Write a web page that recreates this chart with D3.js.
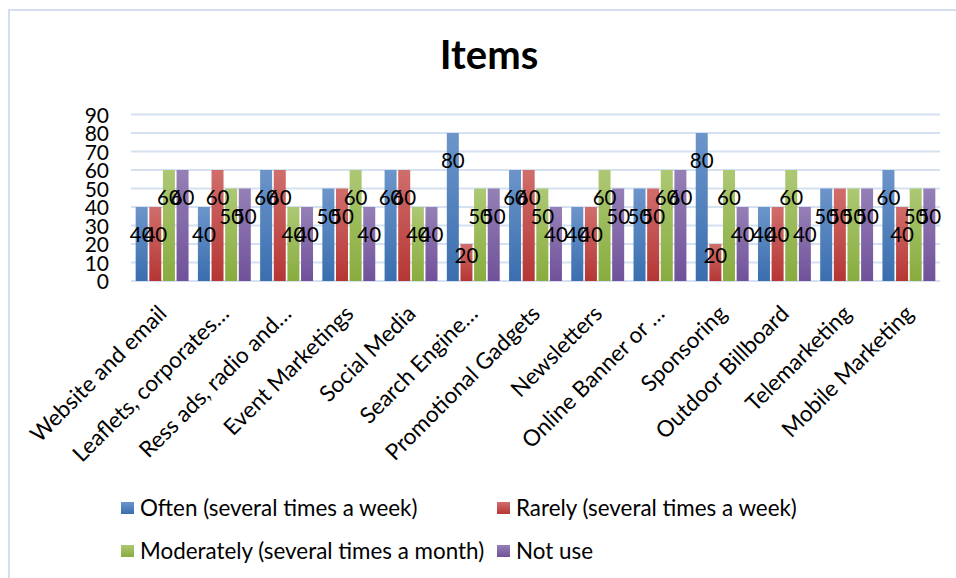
<!DOCTYPE html>
<html>
<head>
<meta charset="utf-8">
<script src="https://cdn.jsdelivr.net/npm/d3@7/dist/d3.min.js"></script>
<style>
  html, body { margin: 0; padding: 0; background: #fff; }
  svg { display: block; font-family: Lato, "Open Sans", sans-serif; }
</style>
</head>
<body>
<svg id="chart" width="956" height="578"></svg>
<script>
// Marketing channels and how often each is used
const categories = [
  "Website and email", "Leaflets, corporates…", "Ress ads, radio and…",
  "Event Marketings", "Social Media", "Search Engine…", "Promotional Gadgets",
  "Newsletters", "Online Banner or …", "Sponsoring", "Outdoor Billboard",
  "Telemarketing", "Mobile Marketing"
];
const seriesNames = [
  "Often (several times a week)", "Rarely (several times a week)",
  "Moderately (several times a month)", "Not use"
];
const often      = [40, 40, 60, 50, 60, 80, 60, 40, 50, 80, 40, 50, 60];
const rarely     = [40, 60, 60, 50, 60, 20, 60, 40, 50, 20, 40, 50, 40];
const moderately = [60, 50, 40, 60, 40, 50, 50, 60, 60, 60, 60, 50, 50];
const notUse     = [60, 50, 40, 40, 40, 50, 40, 50, 60, 40, 40, 50, 50];
const yTicks = [0, 10, 20, 30, 40, 50, 60, 70, 80, 90];

const seriesValues = [often, rarely, moderately, notUse];
const colors = [
  { top: "#6c95ca", bottom: "#3a6eaf" },
  { top: "#d06e6c", bottom: "#b53634" },
  { top: "#adc873", bottom: "#88ac3f" },
  { top: "#9580b6", bottom: "#70519a" }
];

const svg = d3.select("#chart");

// outer frame (top and left edges)
svg.append("path")
  .attr("d", "M9,578 V10 H956")
  .attr("fill", "none")
  .attr("stroke", "#d3deee")
  .attr("stroke-width", 2);

const defs = svg.append("defs");
colors.forEach((c, i) => {
  const g = defs.append("linearGradient")
    .attr("id", "grad" + i)
    .attr("x1", 0).attr("y1", 0).attr("x2", 0).attr("y2", 1);
  g.append("stop").attr("offset", "0%").attr("stop-color", c.top);
  g.append("stop").attr("offset", "100%").attr("stop-color", c.bottom);
});

const plot = { left: 131, right: 940, top: 114.5, bottom: 281 };

const x0 = d3.scaleBand()
  .domain(categories)
  .range([plot.left, plot.right])
  .paddingInner(0.15)
  .paddingOuter(0.075);

const x1 = d3.scaleBand()
  .domain(d3.range(seriesNames.length))
  .range([0, x0.bandwidth()])
  .paddingInner(0.12);

const y = d3.scaleLinear().domain([0, 90]).range([plot.bottom, plot.top]);

// title
svg.append("text")
  .attr("x", 489)
  .attr("y", 69)
  .attr("text-anchor", "middle")
  .attr("font-size", 40)
  .attr("font-weight", "bold")
  .attr("fill", "#000")
  .text("Items");

// gridlines
svg.append("g")
  .selectAll("line")
  .data(yTicks)
  .join("line")
  .attr("x1", plot.left)
  .attr("x2", plot.right)
  .attr("y1", d => y(d))
  .attr("y2", d => y(d))
  .attr("stroke", "#d5e1f0")
  .attr("stroke-width", 2);

// y axis labels
const yAxis = d3.axisLeft(y).tickValues(yTicks).tickSize(0).tickPadding(0);
const gy = svg.append("g")
  .attr("transform", `translate(${plot.left - 22},0)`)
  .call(yAxis);
gy.select(".domain").remove();
gy.selectAll("text")
  .attr("font-family", "Lato, sans-serif")
  .attr("font-size", 21)
  .attr("fill", "#000")
  .attr("dy", "0.36em");

// bars
const rows = categories.map((c, i) => ({
  cat: c,
  vals: seriesValues.map((s, k) => ({ k, v: s[i] }))
}));

const groups = svg.append("g")
  .selectAll("g")
  .data(rows)
  .join("g")
  .attr("transform", d => `translate(${x0(d.cat)},0)`);

groups.selectAll("rect")
  .data(d => d.vals)
  .join("rect")
  .attr("x", d => x1(d.k))
  .attr("width", x1.bandwidth())
  .attr("y", d => y(d.v))
  .attr("height", d => y(0) - y(d.v))
  .attr("fill", d => `url(#grad${d.k})`);

// value labels
groups.selectAll("text")
  .data(d => d.vals)
  .join("text")
  .attr("x", d => x1(d.k) + x1.bandwidth() / 2)
  .attr("y", d => Math.min(y(d.v) + 28, y(0) - 25))
  .attr("dy", "0.36em")
  .attr("text-anchor", "middle")
  .attr("font-size", 20.5)
  .attr("fill", "#000")
  .text(d => d.v);

// category labels, rotated
const xAxis = d3.axisBottom(x0).tickSize(0).tickPadding(0);
const gx = svg.append("g")
  .attr("transform", `translate(0,${plot.bottom})`)
  .call(xAxis);
gx.select(".domain").remove();
gx.selectAll("text")
  .attr("font-family", "Lato, sans-serif")
  .attr("font-size", 22.5)
  .attr("fill", "#000")
  .attr("text-anchor", "end")
  .attr("dy", 0)
  .attr("transform", "translate(6,34) rotate(-45)");

// legend
const legendPos = [
  { x: 121, y: 508 }, { x: 497, y: 508 },
  { x: 121, y: 551 }, { x: 497, y: 551 }
];
const legend = svg.append("g")
  .selectAll("g")
  .data(seriesNames)
  .join("g")
  .attr("transform", (d, i) => `translate(${legendPos[i].x},${legendPos[i].y})`);
legend.append("rect")
  .attr("x", 0).attr("y", -6)
  .attr("width", 13).attr("height", 12)
  .attr("fill", (d, i) => `url(#grad${i})`);
legend.append("text")
  .attr("x", 19)
  .attr("dy", "0.36em")
  .attr("font-size", 22.4)
  .attr("fill", "#000")
  .text(d => d);
</script>
</body>
</html>
